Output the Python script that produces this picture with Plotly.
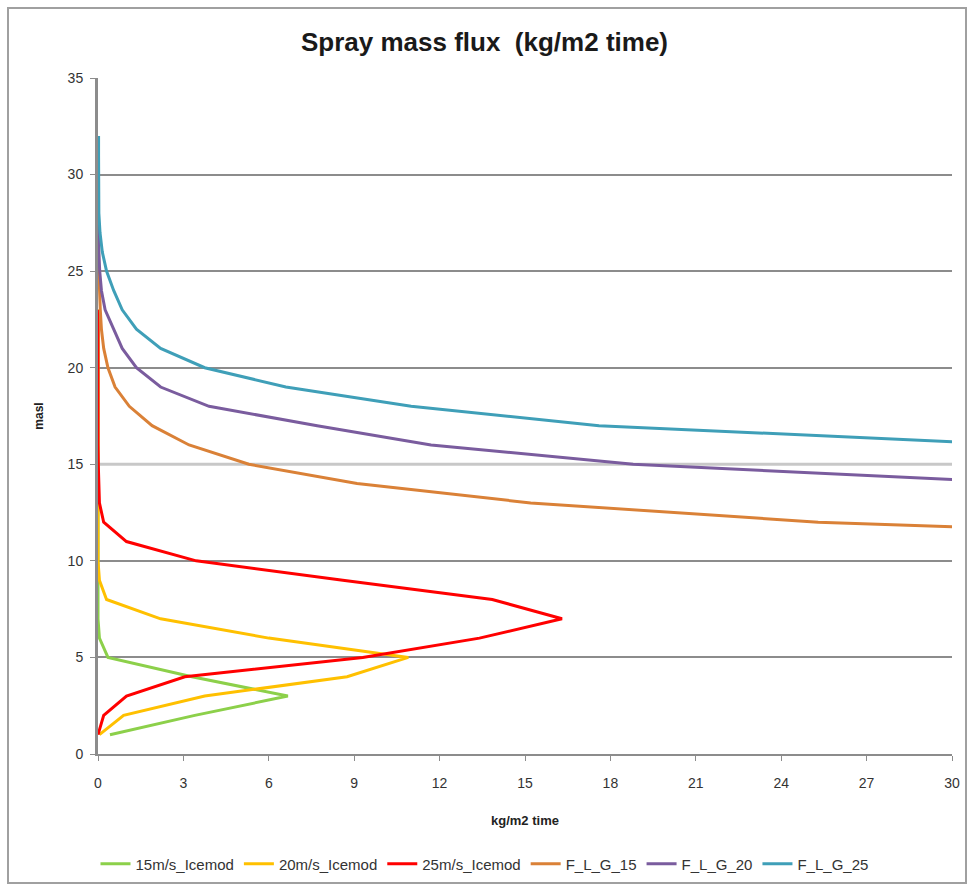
import plotly.graph_objects as go

heights_icemod = [1, 2, 3, 4, 5, 6, 7, 8, 9, 10, 11, 12, 13, 14, 15, 16, 17, 18, 19, 20, 21, 22, 23]
flux_15 = [0.42, 3.4, 6.67, 3.3, 0.35, 0.05, 0.0, 0.0, 0.0, 0.0, 0.0, 0.0, 0.0, 0.0, 0.0, 0.0, 0.0, 0.0, 0.0, 0.0, 0.0, 0.0, 0.0]
flux_20 = [0.05, 0.9, 3.75, 8.75, 10.9, 6.0, 2.2, 0.3, 0.05, 0.0, 0.0, 0.0, 0.0, 0.0, 0.0, 0.0, 0.0, 0.0, 0.0, 0.0, 0.0, 0.0, 0.0]
flux_25 = [0.0, 0.2, 1.0, 3.05, 9.3, 13.4, 16.3, 13.85, 8.6, 3.45, 1.0, 0.2, 0.05, 0.02, 0.01, 0.0, 0.0, 0.0, 0.0, 0.0, 0.0, 0.0, 0.0]

heights_flg_15 = [11, 12, 13, 14, 15, 16, 17, 18, 19, 20, 21, 22, 23, 24, 25, 26, 27, 28, 29, 30, 31, 32]
flux_flg_15 = [45.0, 25.3, 15.2, 9.1, 5.3, 3.2, 1.9, 1.1, 0.6, 0.35, 0.2, 0.12, 0.08, 0.05, 0.03, 0.02, 0.01, 0.01, 0.0, 0.0, 0.0, 0.0]

heights_flg_20 = [14, 15, 16, 17, 18, 19, 20, 21, 22, 23, 24, 25, 26, 27, 28]
flux_flg_20 = [33.0, 18.8, 11.7, 7.7, 3.9, 2.2, 1.35, 0.85, 0.55, 0.25, 0.12, 0.06, 0.03, 0.01, 0.0]

heights_flg_25 = [16, 17, 18, 19, 20, 21, 22, 23, 24, 25, 26, 27, 28, 29, 30, 31, 32]
flux_flg_25 = [32.5, 17.6, 11.0, 6.6, 3.75, 2.2, 1.35, 0.85, 0.55, 0.3, 0.15, 0.07, 0.03, 0.02, 0.02, 0.02, 0.02]

x_ticks = [0, 3, 6, 9, 12, 15, 18, 21, 24, 27, 30]
y_ticks = [0, 5, 10, 15, 20, 25, 30, 35]

series = [
    ("15m/s_Icemod", flux_15, heights_icemod, "#8CD04A"),
    ("20m/s_Icemod", flux_20, heights_icemod, "#FFC000"),
    ("25m/s_Icemod", flux_25, heights_icemod, "#FF0000"),
    ("F_L_G_15", flux_flg_15, heights_flg_15, "#DA8137"),
    ("F_L_G_20", flux_flg_20, heights_flg_20, "#7A5C9E"),
    ("F_L_G_25", flux_flg_25, heights_flg_25, "#3F9FB8"),
]

fig = go.Figure()
for name, xs, ys, col in series:
    fig.add_trace(go.Scatter(x=xs, y=ys, mode="lines", name=name,
                             line=dict(color=col, width=3)))

font_family = "Liberation Sans Narrow, Liberation Sans, Arial, sans-serif"

fig.update_layout(
    width=969, height=890,
    margin=dict(l=98, r=17, t=78, b=136, autoexpand=False),
    paper_bgcolor="white", plot_bgcolor="white",
    title=dict(text="<b>Spray mass flux  (kg/m2 time)</b>", x=0.5, xanchor="center",
               y=1 - 42 / 890, yanchor="middle",
               font=dict(family=font_family, size=26, color="#1a1a1a")),
    font=dict(family=font_family, size=12, color="#333333"),
    showlegend=True,
    legend=dict(orientation="h", x=0.5, xanchor="center", xref="container",
                y=1 - 864 / 890, yanchor="middle", yref="container",
                font=dict(size=15, color="#333333"), itemwidth=30, traceorder="normal"),
    xaxis=dict(range=[0, 30], tickvals=x_ticks, showgrid=False, zeroline=False,
               showline=True, linecolor="#8c8c8c", linewidth=2, layer="below traces",
               ticks="outside", ticklen=5, tickcolor="#8c8c8c", ticklabelstandoff=10,
               title=dict(text="<b>kg/m2 time</b>", font=dict(size=13, color="#222222"), standoff=26),
               tickfont=dict(size=14, color="#333333")),
    yaxis=dict(range=[0, 35], tickvals=y_ticks, showgrid=True, gridcolor="#8c8c8c", gridwidth=1.5,
               zeroline=False, showline=True, linecolor="#8c8c8c", linewidth=3,
               layer="below traces", ticks="outside", ticklen=5, tickcolor="#8c8c8c",
               ticklabelstandoff=4,
               title=dict(text="<b>masl</b>", font=dict(size=12, color="#222222"), standoff=22),
               tickfont=dict(size=14, color="#333333")),
    shapes=[
        dict(type="line", xref="x", yref="y", x0=0, x1=30, y0=15, y1=15,
             line=dict(color="#c8c8c8", width=3), layer="between"),
        dict(type="rect", xref="paper", yref="paper",
             x0=-90 / 854, x1=1 + 14 / 854, y0=-129 / 676, y1=1 + 70 / 676,
             line=dict(color="#a0a0a0", width=2), layer="below"),
    ],
)

fig.write_html("out.html")
